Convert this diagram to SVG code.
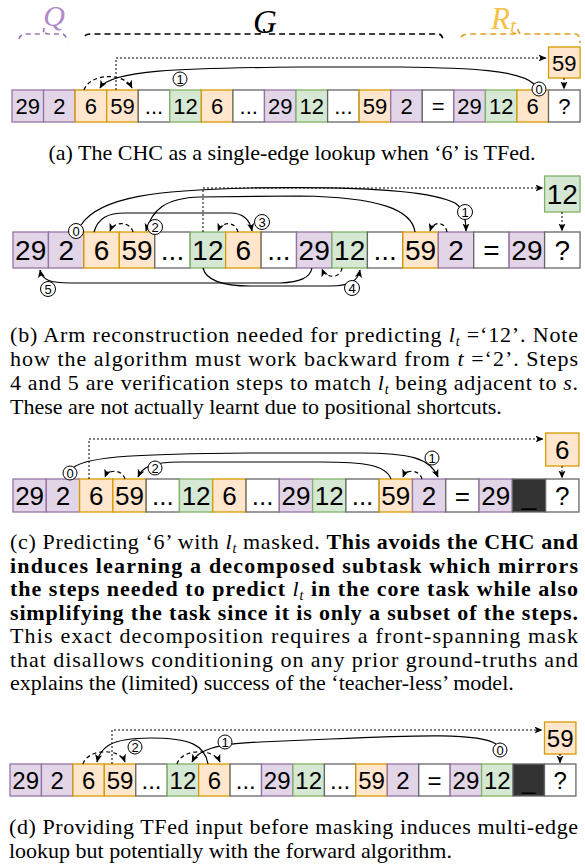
<svg xmlns="http://www.w3.org/2000/svg" width="585" height="867" viewBox="0 0 585 867">
<defs>
<marker id="ah" markerUnits="userSpaceOnUse" markerWidth="9" markerHeight="8" refX="7.5" refY="3.5" orient="auto"><path d="M0,0 L8,3.5 L0,7 L2,3.5 z" fill="#000"/></marker>
<style>
.p{fill:#e1d5e7;stroke:#9673a6;stroke-width:1.3}
.o{fill:#ffe6cc;stroke:#d79b00;stroke-width:1.3}
.g{fill:#d5e8d4;stroke:#82b366;stroke-width:1.3}
.w{fill:#ffffff;stroke:#666666;stroke-width:1.3}
.k{fill:#333333;stroke:#666666;stroke-width:1.3}
text{font-family:"Liberation Sans",Arial,sans-serif;text-anchor:middle;fill:#000}
.fa text{font-size:22px}
.fb text{font-size:28px}
.fc text{font-size:26px}
.fd text{font-size:24px}
.ln{fill:none;stroke:#000;stroke-width:1.2}
.ds{stroke-dasharray:4 3}
.dt{stroke-dasharray:2 2;stroke-width:1}
.num circle{fill:#fff;stroke:#000;stroke-width:1}
.num text{font-size:13px}
.cap{font-family:"Liberation Serif","Times New Roman",serif;font-size:22px;text-anchor:start}
.cc{text-anchor:middle}
.it{font-style:italic}
.sb{font-style:italic;font-size:14px}
.b{font-weight:bold}
.lab{font-family:"Liberation Serif","Times New Roman",serif;font-style:italic}
</style>
</defs>
<rect width="585" height="867" fill="#fff"/>

<!-- top braces -->
<g id="braces">
<path class="ln" d="M19 39 Q20 34 27 34 L40 34 Q44 34 44 28 Q44 34 48 34 L62 34 Q66 34 67 42" style="stroke:#9f76b5;stroke-dasharray:5 4;stroke-width:1.6"/>
<path class="ln" d="M85 36 Q86 34 92 34 L258 34 Q264 34 264 29 Q264 34 270 34 L438 34 Q443 34 443 42" style="stroke:#000;stroke-dasharray:6 4;stroke-width:1.6"/>
<path class="ln" d="M461 37 Q463 34 470 34 L513 34 Q518 34 518 29 Q518 34 523 34 L575 34 Q580 34 580 43" style="stroke:#e0a020;stroke-dasharray:6 4;stroke-width:1.6"/>
<text class="lab" x="54" y="26" style="font-size:30px;fill:#b089c8">Q</text>
<text class="lab" x="265" y="33" style="font-size:33px">G</text>
<text class="lab" x="491" y="29" style="font-size:31px;fill:#f3c247;text-anchor:start">R<tspan style="font-size:22px" dy="4">t</tspan></text>
</g>

<!-- Panel A -->
<g id="panelA" class="fa">
<g id="a0"><rect class="p" x="12" y="90" width="31.56" height="32"/><text x="27.8" y="114">29</text></g>
<g id="a1"><rect class="p" x="43.56" y="90" width="31.56" height="32"/><text x="59.3" y="114">2</text></g>
<g id="a2"><rect class="o" x="75.12" y="90" width="31.56" height="32"/><text x="90.9" y="114">6</text></g>
<g id="a3"><rect class="o" x="106.68" y="90" width="31.56" height="32"/><text x="122.5" y="114">59</text></g>
<g id="a4"><rect class="w" x="138.24" y="90" width="31.56" height="32"/><text x="154" y="114">...</text></g>
<g id="a5"><rect class="g" x="169.8" y="90" width="31.56" height="32"/><text x="185.6" y="114">12</text></g>
<g id="a6"><rect class="o" x="201.36" y="90" width="31.56" height="32"/><text x="217.1" y="114">6</text></g>
<g id="a7"><rect class="w" x="232.92" y="90" width="31.56" height="32"/><text x="248.7" y="114">...</text></g>
<g id="a8"><rect class="p" x="264.48" y="90" width="31.56" height="32"/><text x="280.3" y="114">29</text></g>
<g id="a9"><rect class="g" x="296.04" y="90" width="31.56" height="32"/><text x="311.8" y="114">12</text></g>
<g id="a10"><rect class="w" x="327.6" y="90" width="31.56" height="32"/><text x="343.4" y="114">...</text></g>
<g id="a11"><rect class="o" x="359.16" y="90" width="31.56" height="32"/><text x="374.9" y="114">59</text></g>
<g id="a12"><rect class="p" x="390.72" y="90" width="31.56" height="32"/><text x="406.5" y="114">2</text></g>
<g id="a13"><rect class="w" x="422.28" y="90" width="31.56" height="32"/><text x="438.1" y="114">=</text></g>
<g id="a14"><rect class="p" x="453.84" y="90" width="31.56" height="32"/><text x="469.6" y="114">29</text></g>
<g id="a15"><rect class="g" x="485.4" y="90" width="31.56" height="32"/><text x="501.2" y="114">12</text></g>
<g id="a16"><rect class="o" x="516.96" y="90" width="31.56" height="32"/><text x="532.7" y="114">6</text></g>
<g id="a17"><rect class="w" x="548.52" y="90" width="31.56" height="32"/><text x="564.3" y="114">?</text></g>
<g id="aOut"><rect class="o" x="548.52" y="47" width="31.56" height="31"/><text x="564.3" y="70.5">59</text></g>
</g>
<g id="connA">
<path class="ln dt" d="M116 90 L116 58 L546 58" marker-end="url(#ah)"/>
<path class="ln dt" d="M564 78 L564 89" marker-end="url(#ah)"/>
<path class="ln" d="M534 84 C520 70 470 68 400 67 L300 67 C180 68 110 70 100 88" marker-end="url(#ah)"/>
<path class="ln ds" d="M84 90 C90 73 124 72 132 88" marker-end="url(#ah)"/>
<g class="num"><circle cx="180" cy="79" r="7"/><text x="180" y="83.5">1</text></g>
<g class="num"><circle cx="539" cy="89" r="7"/><text x="539" y="93.5">0</text></g>
</g>
<text class="cap cc" x="292" y="160">(a) The CHC as a single-edge lookup when ‘6’ is TFed.</text>

<!-- Panel B -->
<g id="panelB" class="fb">
<g id="b0"><rect class="p" x="13" y="232" width="35.44" height="36"/><text x="30.7" y="260">29</text></g>
<g id="b1"><rect class="p" x="48.44" y="232" width="35.44" height="36"/><text x="66.2" y="260">2</text></g>
<g id="b2"><rect class="o" x="83.88" y="232" width="35.44" height="36"/><text x="101.6" y="260">6</text></g>
<g id="b3"><rect class="o" x="119.32" y="232" width="35.44" height="36"/><text x="137" y="260">59</text></g>
<g id="b4"><rect class="w" x="154.76" y="232" width="35.44" height="36"/><text x="172.5" y="260">...</text></g>
<g id="b5"><rect class="g" x="190.2" y="232" width="35.44" height="36"/><text x="207.9" y="260">12</text></g>
<g id="b6"><rect class="o" x="225.64" y="232" width="35.44" height="36"/><text x="243.4" y="260">6</text></g>
<g id="b7"><rect class="w" x="261.08" y="232" width="35.44" height="36"/><text x="278.8" y="260">...</text></g>
<g id="b8"><rect class="p" x="296.52" y="232" width="35.44" height="36"/><text x="314.2" y="260">29</text></g>
<g id="b9"><rect class="g" x="331.96" y="232" width="35.44" height="36"/><text x="349.7" y="260">12</text></g>
<g id="b10"><rect class="w" x="367.4" y="232" width="35.44" height="36"/><text x="385.1" y="260">...</text></g>
<g id="b11"><rect class="o" x="402.84" y="232" width="35.44" height="36"/><text x="420.6" y="260">59</text></g>
<g id="b12"><rect class="p" x="438.28" y="232" width="35.44" height="36"/><text x="456" y="260">2</text></g>
<g id="b13"><rect class="w" x="473.72" y="232" width="35.44" height="36"/><text x="491.4" y="260">=</text></g>
<g id="b14"><rect class="p" x="509.16" y="232" width="35.44" height="36"/><text x="526.9" y="260">29</text></g>
<g id="b15"><rect class="w" x="544.6" y="232" width="35.44" height="36"/><text x="562.3" y="260">?</text></g>
<g id="bOut"><rect class="g" x="544.6" y="176" width="35.44" height="36"/><text x="562.3" y="204">12</text></g>
</g>
<g id="connB">
<path class="ln dt" d="M203 232 L203 188 L543 188" marker-end="url(#ah)"/>
<path class="ln dt" d="M562 212 L562 231" marker-end="url(#ah)"/>
<path class="ln" d="M81 225 C100 196 160 190 250 188 C360 186 430 190 455 203 C463 208 466 220 466 231" marker-end="url(#ah)"/>
<path class="ln" d="M415 232 C412 210 380 197 300 196 L200 197 C165 198 152 210 146 231" marker-end="url(#ah)"/>
<path class="ln" d="M94 232 C98 218 108 213 125 213 L230 213 C244 213 250 220 252 231" marker-end="url(#ah)"/>
<path class="ln" d="M312 268 C310 278 300 282 280 283 L70 283 C50 283 42 280 40 270" marker-end="url(#ah)"/>
<path class="ln" d="M203 268 C206 280 220 286 250 286 L330 286 C352 286 358 280 360 270" marker-end="url(#ah)"/>
<path class="ln ds" d="M133 232 C130 221 114 221 110 231" marker-end="url(#ah)"/>
<path class="ln ds" d="M238 232 C235 221 222 221 218 231" marker-end="url(#ah)"/>
<path class="ln ds" d="M447 232 C445 221 433 221 430 231" marker-end="url(#ah)"/>
<path class="ln ds" d="M342 268 C340 279 326 279 322 269" marker-end="url(#ah)"/>
<g class="num"><circle cx="76" cy="231" r="7.5"/><text x="76" y="235.5">0</text></g>
<g class="num"><circle cx="465" cy="212" r="7.5"/><text x="465" y="216.5">1</text></g>
<g class="num"><circle cx="155" cy="227" r="7.5"/><text x="155" y="231.5">2</text></g>
<g class="num"><circle cx="262" cy="222" r="7.5"/><text x="262" y="226.5">3</text></g>
<g class="num"><circle cx="352" cy="288" r="7.5"/><text x="352" y="292.5">4</text></g>
<g class="num"><circle cx="48" cy="289" r="7.5"/><text x="48" y="293.5">5</text></g>
</g>
<g id="capB">
<text class="cap" x="10" y="342" textLength="568" lengthAdjust="spacing">(b) Arm reconstruction needed for predicting <tspan class="it">l</tspan><tspan class="sb" dy="4">t</tspan><tspan dy="-4"> =‘12’. Note</tspan></text>
<text class="cap" x="10" y="366" textLength="568" lengthAdjust="spacing">how the algorithm must work backward from <tspan class="it">t</tspan> =‘2’. Steps</text>
<text class="cap" x="10" y="390" textLength="568" lengthAdjust="spacing">4 and 5 are verification steps to match <tspan class="it">l</tspan><tspan class="sb" dy="4">t</tspan><tspan dy="-4"> being adjacent to </tspan><tspan class="it">s</tspan>.</text>
<text class="cap" x="10" y="414">These are not actually learnt due to positional shortcuts.</text>
</g>

<!-- Panel C -->
<g id="panelC" class="fc">
<g id="c0"><rect class="p" x="13" y="479" width="33.29" height="33"/><text x="29.6" y="505">29</text></g>
<g id="c1"><rect class="p" x="46.29" y="479" width="33.29" height="33"/><text x="62.9" y="505">2</text></g>
<g id="c2"><rect class="o" x="79.58" y="479" width="33.29" height="33"/><text x="96.2" y="505">6</text></g>
<g id="c3"><rect class="o" x="112.87" y="479" width="33.29" height="33"/><text x="129.5" y="505">59</text></g>
<g id="c4"><rect class="w" x="146.16" y="479" width="33.29" height="33"/><text x="162.8" y="505">...</text></g>
<g id="c5"><rect class="g" x="179.45" y="479" width="33.29" height="33"/><text x="196.1" y="505">12</text></g>
<g id="c6"><rect class="o" x="212.74" y="479" width="33.29" height="33"/><text x="229.4" y="505">6</text></g>
<g id="c7"><rect class="w" x="246.03" y="479" width="33.29" height="33"/><text x="262.7" y="505">...</text></g>
<g id="c8"><rect class="p" x="279.32" y="479" width="33.29" height="33"/><text x="296" y="505">29</text></g>
<g id="c9"><rect class="g" x="312.61" y="479" width="33.29" height="33"/><text x="329.3" y="505">12</text></g>
<g id="c10"><rect class="w" x="345.9" y="479" width="33.29" height="33"/><text x="362.5" y="505">...</text></g>
<g id="c11"><rect class="o" x="379.19" y="479" width="33.29" height="33"/><text x="395.8" y="505">59</text></g>
<g id="c12"><rect class="p" x="412.48" y="479" width="33.29" height="33"/><text x="429.1" y="505">2</text></g>
<g id="c13"><rect class="w" x="445.77" y="479" width="33.29" height="33"/><text x="462.4" y="505">=</text></g>
<g id="c14"><rect class="p" x="479.06" y="479" width="33.29" height="33"/><text x="495.7" y="505">29</text></g>
<g id="c15"><rect class="k" x="512.35" y="479" width="33.29" height="33"/><text x="529" y="505">_</text></g>
<g id="c16"><rect class="w" x="545.64" y="479" width="33.29" height="33"/><text x="562.3" y="505">?</text></g>
<g id="cOut"><rect class="o" x="545.64" y="433" width="33.29" height="33"/><text x="562.3" y="459">6</text></g>
</g>
<g id="connC">
<path class="ln dt" d="M89 479 L89 439 L543 439" marker-end="url(#ah)"/>
<path class="ln dt" d="M562 466 L562 478" marker-end="url(#ah)"/>
<path class="ln" d="M74 467 C90 456 140 454 250 453 L360 453 C410 453 430 458 438 477" marker-end="url(#ah)"/>
<path class="ln" d="M391 479 C386 465 365 462 320 462 L180 462 C150 462 142 468 138 477" marker-end="url(#ah)"/>
<path class="ln ds" d="M125 479 C122 469 108 469 105 477" marker-end="url(#ah)"/>
<path class="ln ds" d="M422 479 C419 469 406 469 403 477" marker-end="url(#ah)"/>
<g class="num"><circle cx="70" cy="473" r="7"/><text x="70" y="477.5">0</text></g>
<g class="num"><circle cx="432" cy="458" r="7"/><text x="432" y="462.5">1</text></g>
<g class="num"><circle cx="155" cy="468" r="7"/><text x="155" y="472.5">2</text></g>
</g>
<g id="capC">
<text class="cap" x="10" y="549" textLength="568" lengthAdjust="spacing">(c) Predicting ‘6’ with <tspan class="it">l</tspan><tspan class="sb" dy="4">t</tspan><tspan dy="-4"> masked. </tspan><tspan class="b">This avoids the CHC and</tspan></text>
<text class="cap b" x="10" y="572.5" textLength="568" lengthAdjust="spacing">induces learning a decomposed subtask which mirrors</text>
<text class="cap" x="10" y="596" textLength="568" lengthAdjust="spacing"><tspan class="b">the steps needed to predict </tspan><tspan class="it">l</tspan><tspan class="sb" dy="4">t</tspan><tspan class="b" dy="-4"> in the core task while also</tspan></text>
<text class="cap b" x="10" y="619.5" textLength="568" lengthAdjust="spacing">simplifying the task since it is only a subset of the steps.</text>
<text class="cap" x="10" y="643" textLength="568" lengthAdjust="spacing">This exact decomposition requires a front-spanning mask</text>
<text class="cap" x="10" y="666.5" textLength="568" lengthAdjust="spacing">that disallows conditioning on any prior ground-truths and</text>
<text class="cap" x="10" y="690">explains the (limited) success of the ‘teacher-less’ model.</text>
</g>

<!-- Panel D -->
<g id="panelD" class="fd">
<g id="d0"><rect class="p" x="10" y="764" width="31.44" height="32"/><text x="25.7" y="789">29</text></g>
<g id="d1"><rect class="p" x="41.44" y="764" width="31.44" height="32"/><text x="57.2" y="789">2</text></g>
<g id="d2"><rect class="o" x="72.88" y="764" width="31.44" height="32"/><text x="88.6" y="789">6</text></g>
<g id="d3"><rect class="o" x="104.32" y="764" width="31.44" height="32"/><text x="120" y="789">59</text></g>
<g id="d4"><rect class="w" x="135.76" y="764" width="31.44" height="32"/><text x="151.5" y="789">...</text></g>
<g id="d5"><rect class="g" x="167.2" y="764" width="31.44" height="32"/><text x="182.9" y="789">12</text></g>
<g id="d6"><rect class="o" x="198.64" y="764" width="31.44" height="32"/><text x="214.4" y="789">6</text></g>
<g id="d7"><rect class="w" x="230.08" y="764" width="31.44" height="32"/><text x="245.8" y="789">...</text></g>
<g id="d8"><rect class="p" x="261.52" y="764" width="31.44" height="32"/><text x="277.2" y="789">29</text></g>
<g id="d9"><rect class="g" x="292.96" y="764" width="31.44" height="32"/><text x="308.7" y="789">12</text></g>
<g id="d10"><rect class="w" x="324.4" y="764" width="31.44" height="32"/><text x="340.1" y="789">...</text></g>
<g id="d11"><rect class="o" x="355.84" y="764" width="31.44" height="32"/><text x="371.6" y="789">59</text></g>
<g id="d12"><rect class="p" x="387.28" y="764" width="31.44" height="32"/><text x="403" y="789">2</text></g>
<g id="d13"><rect class="w" x="418.72" y="764" width="31.44" height="32"/><text x="434.4" y="789">=</text></g>
<g id="d14"><rect class="p" x="450.16" y="764" width="31.44" height="32"/><text x="465.9" y="789">29</text></g>
<g id="d15"><rect class="g" x="481.6" y="764" width="31.44" height="32"/><text x="497.3" y="789">12</text></g>
<g id="d16"><rect class="k" x="513.04" y="764" width="31.44" height="32"/><text x="528.8" y="789">_</text></g>
<g id="d17"><rect class="w" x="544.48" y="764" width="31.44" height="32"/><text x="560.2" y="789">?</text></g>
<g id="dOut"><rect class="o" x="544.48" y="722" width="31.44" height="32"/><text x="560.2" y="746.5">59</text></g>
</g>
<g id="connD">
<path class="ln dt" d="M112 764 L112 730 L542 730" marker-end="url(#ah)"/>
<path class="ln dt" d="M560 754 L560 763" marker-end="url(#ah)"/>
<path class="ln" d="M496 744 C480 733 420 735 330 739 L260 742 C215 744 198 750 192 762" marker-end="url(#ah)"/>
<path class="ln" d="M208 764 C205 745 190 738 150 738 C110 738 100 748 97 762" marker-end="url(#ah)"/>
<path class="ln ds" d="M83 764 C88 748 120 748 125 762" marker-end="url(#ah)"/>
<path class="ln ds" d="M177 764 C182 748 214 748 220 762" marker-end="url(#ah)"/>
<g class="num"><circle cx="500" cy="750" r="7"/><text x="500" y="754.5">0</text></g>
<g class="num"><circle cx="225" cy="742" r="7"/><text x="225" y="746.5">1</text></g>
<g class="num"><circle cx="135" cy="747" r="7"/><text x="135" y="751.5">2</text></g>
</g>
<g id="capD">
<text class="cap" x="9" y="834" textLength="569" lengthAdjust="spacing">(d) Providing TFed input before masking induces multi-edge</text>
<text class="cap" x="9" y="858">lookup but potentially with the forward algorithm.</text>
</g>
</svg>
